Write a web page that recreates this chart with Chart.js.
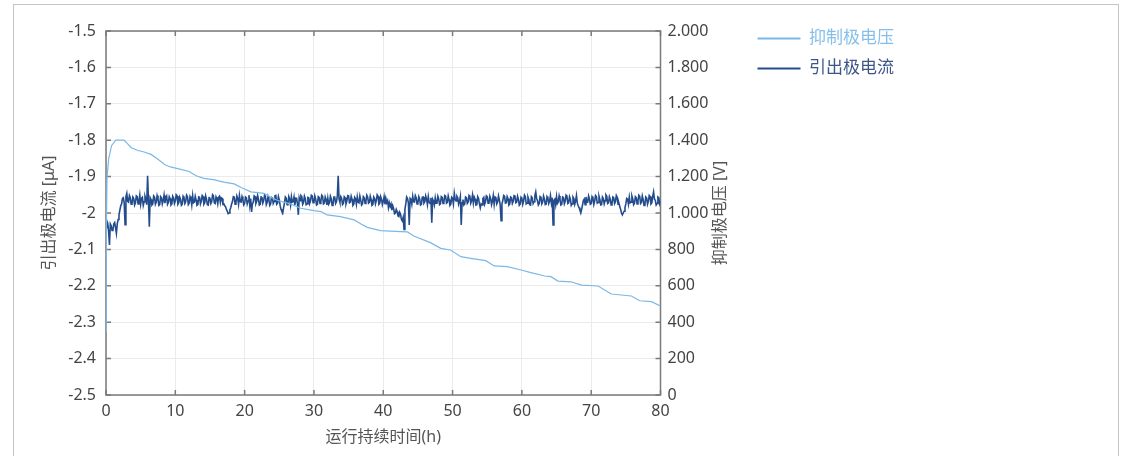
<!DOCTYPE html>
<html lang="zh">
<head>
  <meta charset="UTF-8">
  <title>抑制极电压 / 引出极电流</title>
  <script src="https://cdn.jsdelivr.net/npm/chart.js"></script>
  <style>
    body {
      margin: 0;
      background: #fff;
    }
    .wrap {
      position: relative;
      width: 1127px;
      height: 456px;
      overflow: hidden;
    }
    .frame {
      position: absolute;
      left: 13px;
      top: 4px;
      width: 1104px;
      height: 470px;
      border: 1px solid #c4c4c4;
      pointer-events: none;
    }
    canvas {
      position: absolute;
      left: 0;
      top: 0;
    }
  </style>
</head>
<body>
  <div class="wrap">
    <div class="frame"></div>
    <canvas id="runChart" width="1127" height="456"></canvas>
  </div>

  <script>
    // axis texts
    const xTitle = '运行持续时间(h)';
    const leftTitle = '引出极电流 [μA]';
    const rightTitle = '抑制极电压 [V]';
    const voltLabel = '抑制极电压';
    const currentLabel = '引出极电流';

    // 抑制极电压 [V]
    const voltHours = [0, 0.05, 0.15, 0.4, 0.8, 1.4, 2.6, 3.0, 3.6, 4.5, 5.5, 6.5, 7.5, 8.5, 9.3, 10.8,
      12.0, 13.0, 14.1, 15.5, 17.0, 18.5, 19.5, 20.9, 22.8, 23.6, 24.7, 26.6, 28.1, 30.0, 31.0, 31.9,
      33.8, 35.8, 36.8, 37.7, 39.6, 42.5, 43.5, 44.4, 46.8, 48.3, 49.7, 51.2, 52.6, 53.6, 54.8, 56.0,
      57.9, 59.9, 61.3, 63.3, 64.2, 65.2, 67.1, 68.6, 71.0, 72.9, 75.8, 77.0, 78.7, 80];
    const voltValues = [350, 900, 1200, 1300, 1370, 1400, 1400, 1385, 1360, 1345, 1335, 1322, 1295, 1265, 1253, 1240,
      1228, 1205, 1190, 1183, 1170, 1160, 1140, 1116, 1108, 1090, 1070, 1050, 1026, 1013, 1008, 990,
      980, 962, 940, 921, 903, 898, 896, 874, 837, 806, 797, 760, 751, 745, 738, 709,
      705, 687, 672, 654, 650, 626, 622, 604, 599, 555, 544, 518, 513, 489];

    // 引出极电流 [μA], one sample every 0.125 h (8 per row = 1 hour)
    const currentStep = 0.125;
    const currentValues = [
      -2.040, -2.022, -2.028, -2.050, -2.088, -2.030, -2.035, -2.048,
      -2.046, -2.030, -2.026, -2.040, -2.056, -2.030, -2.018, -2.005,
      -1.992, -1.980, -1.975, -1.960, -1.958, -1.972, -2.032, -1.955,
      -1.946, -1.968, -1.970, -1.952, -1.958, -1.976, -1.974, -1.956,
      -1.960, -1.978, -1.972, -1.953, -1.955, -1.975, -1.968, -1.951,
      -1.976, -1.960, -1.957, -1.979, -1.969, -1.954, -1.962, -1.977,
      -1.898, -1.965, -2.038, -1.958, -1.963, -1.978, -1.975, -1.953,
      -1.956, -1.976, -1.970, -1.952, -1.961, -1.979, -1.977, -1.955,
      -1.958, -1.975, -1.966, -1.951, -1.973, -1.959, -1.954, -1.976,
      -1.971, -1.955, -1.960, -1.978, -1.975, -1.954, -1.959, -1.974,
      -1.967, -1.950, -1.953, -1.976, -1.972, -1.956, -1.962, -1.979,
      -1.976, -1.954, -1.958, -1.974, -1.969, -1.951, -1.955, -1.977,
      -1.973, -1.955, -1.961, -1.978, -1.952, -1.972, -1.970, -1.954,
      -1.964, -1.979, -1.977, -1.956, -1.957, -1.975, -1.968, -1.952,
      -1.955, -1.976, -1.972, -1.953, -1.962, -1.977, -1.978, -1.958,
      -1.959, -1.974, -1.969, -1.950, -1.953, -1.972, -1.974, -1.956,
      -1.962, -1.975, -1.957, -1.954, -1.971, -1.958, -1.960, -1.976,
      -1.975, -1.980, -1.983, -1.990, -1.995, -2.002, -2.000, -1.992,
      -1.985, -1.975, -1.968, -1.955, -1.956, -1.976, -1.971, -1.953,
      -1.960, -1.976, -1.952, -1.969, -1.970, -1.955, -1.963, -1.978,
      -1.974, -1.956, -1.958, -1.975, -1.967, -1.951, -1.979, -1.960,
      -1.997, -1.975, -1.970, -1.953, -1.955, -1.974, -1.968, -1.952,
      -1.962, -1.978, -1.976, -1.956, -1.957, -1.973, -1.966, -1.951,
      -1.954, -1.977, -1.971, -1.955, -1.963, -1.979, -1.975, -1.957,
      -1.958, -1.974, -1.968, -1.953, -1.952, -1.976, -1.973, -1.955,
      -1.964, -1.980, -1.990, -1.996, -2.000, -1.985, -1.972, -1.956,
      -1.959, -1.977, -1.974, -1.955, -1.962, -1.978, -1.955, -1.970,
      -1.969, -1.956, -1.978, -1.962, -1.960, -1.975, -2.005, -1.958,
      -1.966, -1.952, -1.955, -1.976, -1.971, -1.954, -1.961, -1.977,
      -1.975, -1.957, -1.958, -1.974, -1.967, -1.951, -1.953, -1.972,
      -1.970, -1.953, -1.962, -1.978, -1.976, -1.955, -1.957, -1.974,
      -1.968, -1.951, -1.954, -1.975, -1.973, -1.956, -1.963, -1.978,
      -1.959, -1.976, -1.972, -1.954, -1.961, -1.979, -1.977, -1.956,
      -1.956, -1.974, -1.969, -1.953, -1.898, -1.962, -1.971, -1.955,
      -1.960, -1.977, -1.974, -1.955, -1.958, -1.975, -1.967, -1.952,
      -1.953, -1.972, -1.970, -1.954, -1.962, -1.979, -1.976, -1.957,
      -1.961, -1.976, -1.955, -1.970, -1.972, -1.953, -1.964, -1.978,
      -1.975, -1.955, -1.958, -1.974, -1.968, -1.951, -1.956, -1.973,
      -1.971, -1.954, -1.963, -1.979, -1.977, -1.956, -1.960, -1.975,
      -1.966, -1.950, -1.954, -1.976, -1.973, -1.955, -1.962, -1.977,
      -1.968, -1.955, -1.976, -1.960, -1.972, -1.966, -1.985, -1.972,
      -1.982, -1.975, -1.992, -1.980, -1.988, -2.002, -2.000, -1.990,
      -1.996, -2.008, -2.010, -1.998, -2.004, -2.018, -2.022, -2.012,
      -2.045, -1.990, -1.975, -1.956, -1.960, -1.972, -2.033, -1.960,
      -1.963, -1.976, -1.954, -1.969, -1.970, -1.952, -1.958, -1.975,
      -1.972, -1.955, -1.961, -1.978, -1.976, -1.957, -1.956, -1.973,
      -1.969, -1.953, -1.962, -1.977, -1.955, -1.970, -1.974, -1.958,
      -2.027, -1.962, -1.967, -1.978, -1.958, -1.973, -1.972, -1.954,
      -1.961, -1.977, -1.975, -1.955, -1.957, -1.974, -1.968, -1.952,
      -1.954, -1.973, -1.971, -1.953, -1.963, -1.979, -1.976, -1.957,
      -1.960, -1.975, -1.946, -1.962, -1.967, -1.954, -1.958, -1.976,
      -1.968, -1.955, -2.033, -1.972, -1.963, -1.978, -1.975, -1.956,
      -1.958, -1.974, -1.970, -1.952, -1.955, -1.973, -1.966, -1.951,
      -1.973, -1.956, -1.962, -1.978, -1.977, -1.955, -1.960, -1.975,
      -1.986, -1.975, -1.978, -1.960, -1.957, -1.976, -1.969, -1.953,
      -1.955, -1.973, -1.972, -1.954, -1.961, -1.977, -1.967, -1.952,
      -1.976, -1.956, -1.958, -1.975, -1.970, -1.953, -1.963, -1.978,
      -2.021, -1.975, -1.966, -1.952, -1.954, -1.973, -1.972, -1.955,
      -1.961, -1.978, -1.975, -1.956, -1.958, -1.974, -1.968, -1.952,
      -1.953, -1.972, -1.970, -1.954, -1.962, -1.979, -1.976, -1.957,
      -1.960, -1.976, -1.967, -1.951, -1.955, -1.975, -1.973, -1.956,
      -1.963, -1.977, -1.978, -1.955, -1.958, -1.974, -1.969, -1.952,
      -1.942, -1.960, -1.966, -1.978, -1.974, -1.955, -1.957, -1.975,
      -1.970, -1.953, -1.961, -1.977, -1.976, -1.955, -1.959, -1.974,
      -1.967, -1.952, -1.972, -1.958, -2.033, -1.965, -1.962, -1.977,
      -1.955, -1.974, -1.970, -1.953, -1.963, -1.978, -1.976, -1.956,
      -1.958, -1.975, -1.968, -1.951, -1.954, -1.974, -1.972, -1.955,
      -1.962, -1.979, -1.975, -1.956, -1.960, -1.976, -1.967, -1.952,
      -1.973, -1.980, -1.985, -1.992, -2.000, -1.990, -1.978, -1.966,
      -1.962, -1.977, -1.956, -1.971, -1.970, -1.953, -1.961, -1.976,
      -1.974, -1.955, -1.959, -1.977, -1.968, -1.952, -1.955, -1.973,
      -1.971, -1.954, -1.963, -1.978, -1.977, -1.956, -1.960, -1.975,
      -1.966, -1.950, -1.954, -1.974, -1.972, -1.955, -1.962, -1.978,
      -1.975, -1.956, -1.958, -1.974, -1.969, -1.952, -1.957, -1.976,
      -1.973, -1.982, -1.990, -2.000, -2.005, -2.000, -1.995, -1.985,
      -1.975, -1.960, -1.962, -1.976, -1.956, -1.972, -1.970, -1.953,
      -1.961, -1.977, -1.973, -1.955, -1.958, -1.975, -1.967, -1.951,
      -1.954, -1.974, -1.971, -1.953, -1.963, -1.979, -1.976, -1.956,
      -1.959, -1.976, -1.968, -1.952, -1.955, -1.975, -1.972, -1.954,
      -1.942, -1.962, -1.965, -1.978, -1.974, -1.956, -1.958, -1.975,
      -1.968
    ];

    const voltColor = '#7ab8e8';
    const currentColor = '#234c8c';

    const voltData = voltHours.map((h, i) => ({ x: h, y: voltValues[i] }));
    const currentData = currentValues.map((v, i) => ({ x: i * currentStep, y: v }));

    Chart.defaults.font.family = '"Noto Sans", "Noto Sans CJK SC", sans-serif';
    Chart.defaults.font.size = 16;
    Chart.defaults.color = '#444';

    // plot frame with inward tick marks + right axis title (reads bottom-up)
    const frameTicks = {
      id: 'frameTicks',
      beforeDatasetsDraw(chart) {
        const { ctx, chartArea: a, scales } = chart;
        ctx.save();
        ctx.strokeStyle = '#7a7a7a';
        ctx.lineWidth = 1.5;
        ctx.strokeRect(a.left, a.top, a.right - a.left, a.bottom - a.top);
        ctx.beginPath();
        scales.x.ticks.forEach(t => {
          const px = scales.x.getPixelForValue(t.value);
          ctx.moveTo(px, a.bottom); ctx.lineTo(px, a.bottom - 5);
          ctx.moveTo(px, a.top); ctx.lineTo(px, a.top + 5);
        });
        scales.y.ticks.forEach(t => {
          const py = scales.y.getPixelForValue(t.value);
          ctx.moveTo(a.left, py); ctx.lineTo(a.left + 5, py);
        });
        scales.y1.ticks.forEach(t => {
          const py = scales.y1.getPixelForValue(t.value);
          ctx.moveTo(a.right, py); ctx.lineTo(a.right - 5, py);
        });
        ctx.stroke();
        ctx.restore();
      },
      afterDraw(chart) {
        const { ctx, chartArea: a } = chart;
        ctx.save();
        ctx.translate(720, (a.top + a.bottom) / 2);
        ctx.rotate(-Math.PI / 2);
        ctx.font = '16px "Noto Sans", "Noto Sans CJK SC", sans-serif';
        ctx.fillStyle = '#555';
        ctx.textAlign = 'center';
        ctx.textBaseline = 'middle';
        ctx.fillText(rightTitle, 0, 0);
        ctx.restore();
      }
    };

    const gridStyle = { color: '#ebebeb', lineWidth: 1, drawTicks: false };

    new Chart(document.getElementById('runChart'), {
      type: 'line',
      data: {
        datasets: [
          {
            label: voltLabel,
            data: voltData,
            yAxisID: 'y1',
            borderColor: voltColor,
            backgroundColor: voltColor,
            borderWidth: 1.2,
            pointRadius: 0,
            fill: false
          },
          {
            label: currentLabel,
            data: currentData,
            yAxisID: 'y',
            borderColor: currentColor,
            backgroundColor: currentColor,
            borderWidth: 1.6,
            pointRadius: 0,
            fill: false
          }
        ]
      },
      options: {
        responsive: false,
        animation: false,
        layout: { padding: { left: 30, top: 17, right: 223, bottom: 0 } },
        plugins: {
          // empty title only reserves space above the plot
          title: { display: true, text: '', font: { size: 10, lineHeight: 1 }, padding: { top: 0, bottom: 4 } },
          tooltip: { enabled: false },
          legend: {
            position: 'right',
            align: 'start',
            maxWidth: 200,
            labels: {
              boxWidth: 43,
              boxHeight: 2,
              padding: 13,
              font: { size: 17 },
              generateLabels(chart) {
                return chart.data.datasets.map((ds, i) => ({
                  text: ds.label,
                  fillStyle: ds.borderColor,
                  strokeStyle: ds.borderColor,
                  lineWidth: 0,
                  fontColor: i === 0 ? '#86bfe9' : '#3d5689',
                  datasetIndex: i
                }));
              }
            }
          }
        },
        scales: {
          x: {
            type: 'linear',
            min: 0,
            max: 80,
            ticks: { stepSize: 10, padding: 7, color: '#444' },
            grid: gridStyle,
            border: { display: false },
            title: { display: true, text: xTitle, color: '#555', padding: { bottom: 9 } },
            afterFit(scale) { scale.height = 61; }
          },
          y: {
            position: 'left',
            min: -2.5,
            max: -1.5,
            ticks: {
              stepSize: 0.1,
              padding: 10,
              color: '#444',
              callback: v => String(parseFloat(v.toFixed(1)))
            },
            grid: gridStyle,
            border: { display: false },
            title: { display: true, text: leftTitle, color: '#555', padding: { top: 10 } },
            afterFit(scale) { scale.width = 76; }
          },
          y1: {
            position: 'right',
            min: 0,
            max: 2000,
            ticks: {
              stepSize: 200,
              padding: 7,
              color: '#444',
              callback: v => String(v).replace(/\B(?=(\d{3})+(?!\d))/g, '.')
            },
            grid: { display: false, drawTicks: false },
            border: { display: false },
            afterFit(scale) { scale.width = 84; }
          }
        }
      },
      plugins: [frameTicks]
    });
  </script>
</body>
</html>
